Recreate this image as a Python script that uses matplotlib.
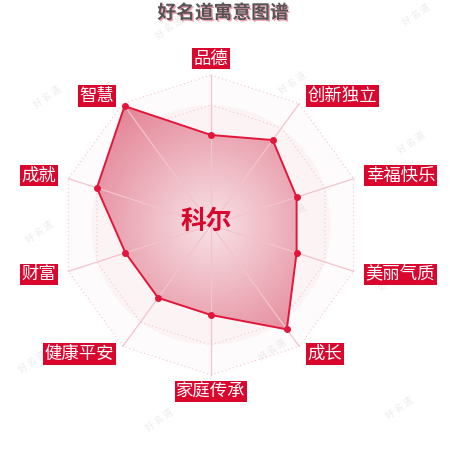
import numpy as np
import matplotlib
matplotlib.use('Agg')
import matplotlib.pyplot as plt
from matplotlib.patches import Polygon
import matplotlib.patheffects as pe

plt.rcParams['font.family'] = ['Noto Sans CJK SC', 'DejaVu Sans']

# ---- data ----
title = '好名道寓意图谱'
name = '科尔'
categories = ['品德', '创新独立', '幸福快乐', '美丽气质', '成长',
              '家庭传承', '健康平安', '财富', '成就', '智慧']
values = [60, 70, 60, 60, 86, 60, 60, 60, 80, 98]
max_value = 100
grid_levels = [0.2, 0.4, 0.6, 0.8, 1.0]

# ---- layout ----
W = H = 450
R = 150.0          # radius in px
CX, CY = 211, 225  # centre in px (from top-left)
RED = '#d9072e'
LINE = '#e2163a'

fig = plt.figure(figsize=(4.5, 4.5), dpi=100)
ax = fig.add_axes([0, 0, 1, 1])
ax.set_xlim(-CX / R, (W - CX) / R)
ax.set_ylim(-(H - CY) / R, CY / R)
ax.set_aspect('equal')
ax.axis('off')

n = len(categories)
ang = np.arange(n) * 2 * np.pi / n
ux, uy = np.sin(ang), np.cos(ang)

# watermarks
wm_pos = [(417, 15), (170, 28), (48, 97), (293, 83), (412, 143), (40, 232),
          (293, 215), (393, 280), (150, 210), (33, 362), (273, 350),
          (160, 420), (400, 408)]
for px, py in wm_pos:
    ax.text((px - CX) / R, (CY - py) / R, '好 名 道', fontsize=6.5, color='#ececec',
            rotation=35, ha='center', va='center', zorder=0.5)

# background radial shading (clipped to outer decagon)
N = 500
g = np.linspace(-1, 1, N)
X, Y = np.meshgrid(g, g)
rr = np.sqrt(X ** 2 + Y ** 2)
bg = np.zeros((N, N, 4))
bg[..., 0] = 242 / 255
bg[..., 1] = 180 / 255
bg[..., 2] = 194 / 255
bg[..., 3] = np.where(rr < 0.8, 0.16, 0.05)
outer = Polygon(np.c_[ux, uy], closed=True, facecolor='none', edgecolor='none')
ax.add_patch(outer)
im = ax.imshow(bg, extent=[-1, 1, -1, 1], origin='lower', zorder=1, interpolation='bilinear')
im.set_clip_path(outer)

# grid decagons
for lv in grid_levels:
    ax.plot(np.r_[ux, ux[0]] * lv, np.r_[uy, uy[0]] * lv, ls=(0, (1, 2.5)),
            color='#f2c6d0', lw=0.8, zorder=2)

# data polygon with radial gradient
v = np.array(values) / max_value
dx, dy = ux * v, uy * v
poly = Polygon(np.c_[dx, dy], closed=True, facecolor='none', edgecolor='none')
ax.add_patch(poly)
c0 = np.array([248, 226, 230]) / 255
c1 = np.array([226, 122, 142]) / 255
t = np.clip(rr, 0, 1)[..., None]
fill = np.zeros((N, N, 4))
fill[..., :3] = c0 * (1 - t) + c1 * t
fill[..., 3] = 0.95
im2 = ax.imshow(fill, extent=[-1, 1, -1, 1], origin='lower', zorder=3, interpolation='bilinear')
im2.set_clip_path(poly)

# axis lines
for i in range(n):
    ax.plot([0, ux[i]], [0, uy[i]], color='#f3c3cd', lw=0.9, zorder=4)

# data line and markers
ax.plot(np.r_[dx, dx[0]], np.r_[dy, dy[0]], color=LINE, lw=1.4, zorder=5)
ax.plot(dx, dy, 'o', color=LINE, ms=4, zorder=6)

# category labels
gap = 7.0  # points
for i, lab in enumerate(categories):
    sx, sy = ux[i], uy[i]
    if abs(sx) < 1e-6:
        ha = 'center'
    elif sx > 0:
        ha = 'left'
    else:
        ha = 'right'
    if abs(sx) < 1e-6:
        va = 'bottom' if sy > 0 else 'top'
        ox, oy = 0, sy * 5.5
    else:
        va = 'center'
        ox = sx * gap + (2 if ha == 'left' else -2)
        oy = sy * gap
    ax.annotate(lab, xy=(sx, sy), xytext=(ox, oy),
                textcoords='offset points', ha=ha, va=va, fontsize=12.5, color='white',
                bbox=dict(boxstyle='square,pad=0.1', fc=RED, ec='none'), zorder=8)

# centre name
ax.text((206 - CX) / R, (CY - 221) / R, name, fontsize=18.5, fontweight='black', color=RED,
        ha='center', va='center', zorder=9)

# title
ax.text((223 - CX) / R, (CY - 13) / R, title, fontsize=13.5, fontweight='black', color='#555555',
        ha='center', va='center', zorder=9,
        path_effects=[pe.SimplePatchShadow(offset=(1, -1), shadow_rgbFace='#f0a0b2', alpha=1),
                      pe.Normal()])

fig.savefig('out.png', dpi=100)
